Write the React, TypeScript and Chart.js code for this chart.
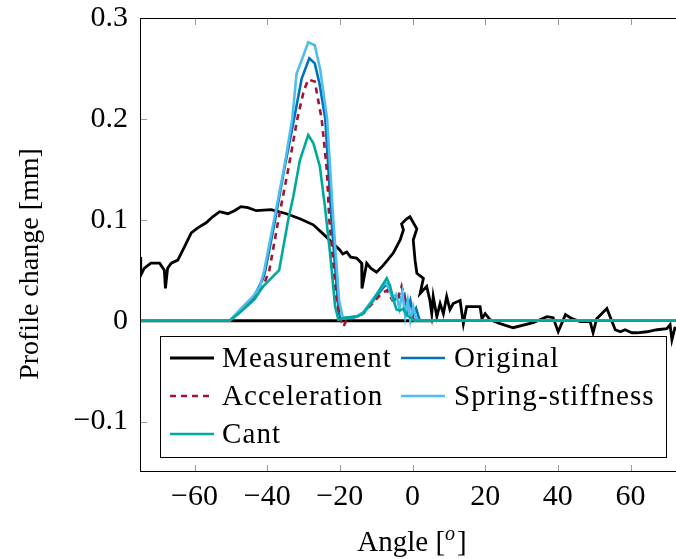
import React, { useEffect, useRef } from 'react';
import { Chart, registerables } from 'chart.js';

Chart.register(...registerables);

// ---------------- data ----------------
const measurementAngle = [
  -75, -74.8, -73.8, -72.0, -69.6, -68.3, -68.0, -67.4, -66.4, -64.6, -62.8, -60.9, -59.1, -56.8, -55.0,
  -53.1, -50.8, -49.0, -47.2, -45.3, -43.0, -38.9, -34.7, -31.0, -27.3, -24.6, -22.3, -20.0, -19.2, -18.1,
  -17.0, -15.4, -14.0, -13.9, -12.6, -11.5, -9.9, -8.0, -5.3, -3.4, -2.5, -3.0, -1.6, -0.7, 1.2, 0.2, 0.7,
  1.2, 3.0, 2.1, 3.9, 4.8, 5.3, 5.7, 6.7, 7.6, 8.5, 9.4, 10.3, 11.2, 13.1, 14.0, 14.9, 18.6, 19.1, 20.0,
  21.3, 24.1, 27.7, 33.2, 37.0, 38.7, 40.1, 42.1, 43.9, 46.2, 48.9, 49.7, 50.7, 53.5, 55.8, 57.2, 58.5,
  60.4, 61.8, 64.5, 67.3, 70.0, 70.9, 71.4, 72.3,
];
const measurementProfile = [
  0.063, 0.045, 0.052, 0.057, 0.057, 0.050, 0.032, 0.052, 0.057, 0.060, 0.073, 0.087, 0.092, 0.097, 0.103,
  0.108, 0.106, 0.109, 0.113, 0.112, 0.109, 0.110, 0.106, 0.101, 0.095, 0.086, 0.078, 0.070, 0.066, 0.068,
  0.063, 0.062, 0.057, 0.032, 0.057, 0.052, 0.048, 0.055, 0.067, 0.080, 0.090, 0.096, 0.101, 0.103, 0.091,
  0.080, 0.060, 0.047, 0.042, 0.027, 0.034, 0.020, 0.007, 0.024, 0.004, 0.017, 0.007, 0.024, 0.011, 0.017,
  0.020, -0.003, 0.014, 0.014, 0.002, 0.007, 0.001, -0.003, -0.007, -0.002, 0.004, 0.003, -0.011, 0.006,
  0.002, -0.001, -0.001, -0.012, 0.002, 0.012, -0.009, -0.011, -0.009, -0.012, -0.012, -0.011, -0.009,
  -0.008, -0.004, -0.019, -0.006,
];

const originalAngle = [
  -75, -50.3, -47.5, -43.9, -41.1, -40.5, -37.8, -35.3, -32.6, -30.5, -28.4, -26.9, -25.6, -24.0, -22.3,
  -20.6, -20.0, -18.1, -15.4, -13.6, -10.8, -8.0, -7.1, -6.2, -5.0, -4.0, -3.0, -2.2, -1.4, -0.6, 0.2, 1.0,
  2.0, 75,
];
const originalProfile = [
  0, 0, 0.01, 0.022, 0.042, 0.05, 0.1, 0.15, 0.2, 0.24, 0.26, 0.255, 0.235, 0.2, 0.1, 0.02, 0.002, 0.003,
  0.004, 0.008, 0.02, 0.033, 0.036, 0.03, 0.02, 0.024, 0.022, 0.026, 0.01, 0.02, 0.004, 0.012, 0, 0,
];

const accelerationAngle = [
  -75, -50.3, -47.5, -43.9, -41.0, -39.4, -36.9, -34.2, -31.7, -29.9, -28.7, -26.9, -25.0, -23.6, -22.9,
  -20.9, -20.0, -19.0, -18.0, -15.4, -13.6, -10.8, -8.5, -7.0, -5.5, -4.2, -3.0, -2.0, -1.0, 0.0, 1.0, 75,
];
const accelerationProfile = [
  0, 0, 0.009, 0.02, 0.035, 0.05, 0.1, 0.15, 0.2, 0.228, 0.239, 0.237, 0.2, 0.15, 0.1, 0.02, 0.004, -0.006,
  0.002, 0.004, 0.007, 0.018, 0.027, 0.03, 0.02, 0.02, 0.034, 0.02, 0.01, 0.002, 0, 0,
];

const springAngle = [
  -75, -50.3, -47.5, -43.9, -42.0, -40.8, -38.1, -35.4, -33.1, -31.9, -30.1, -28.7, -26.9, -25.4, -23.5,
  -21.8, -20.2, -19.1, -15.4, -13.6, -10.8, -8.5, -7.5, -6.5, -5.5, -4.5, -3.6, -2.8, -2.0, -1.3, -0.6, 0.2,
  1.0, 1.8, 75,
];
const springProfile = [
  0, 0, 0.011, 0.024, 0.034, 0.05, 0.1, 0.15, 0.2, 0.245, 0.262, 0.276, 0.273, 0.249, 0.2, 0.1, 0.02, 0.002,
  0.004, 0.008, 0.022, 0.033, 0.038, 0.032, 0.022, 0.026, 0.012, 0.028, 0.004, 0.02, 0.0, 0.014, 0.002, 0, 0,
];

const cantAngle = [
  -75, -50.3, -47.5, -43.5, -41.1, -36.7, -34.2, -32.8, -31.0, -28.7, -27.3, -25.5, -24.1, -22.7, -21.3,
  -20.4, -18.1, -15.4, -13.6, -10.8, -8.5, -7.1, -6.2, -5.2, -4.4, -3.5, -2.5, -1.5, -0.5, 0.5, 75,
];
const cantProfile = [
  0, 0, 0.008, 0.021, 0.034, 0.05, 0.1, 0.123, 0.159, 0.184, 0.176, 0.153, 0.113, 0.067, 0.014, 0.001, 0.003,
  0.004, 0.007, 0.02, 0.034, 0.042, 0.035, 0.02, 0.011, 0.01, 0.012, 0.005, 0.003, 0, 0,
];

const baselineAngle = [-75, 6];
const baselineProfile = [0, 0];

const xTicks = [-60, -40, -20, 0, 20, 40, 60];
const yTicks = [-0.1, 0, 0.1, 0.2, 0.3];

const seriesLabels = ['Measurement', 'Original', 'Acceleration', 'Spring-stiffness', 'Cant'];
const xTitle = 'Angle [';
const xTitleSup = 'o';
const yTitle = 'Profile change [mm]';

// ---------------- styling ----------------
const FONT = "'Liberation Serif', 'Times New Roman', serif";
const COLORS = ['#000000', '#0072BD', '#A2142F', '#4DBEEE', '#00A99D'];

const pts = (xs: number[], ys: number[]) => xs.map((x, i) => ({ x, y: ys[i] }));
const fmt = (v: number) => {
  const s = v === 0 ? '0' : Math.abs(v) < 1 ? v.toFixed(1) : String(v);
  return s.replace('-', '\u2212');
};

const decor = {
  id: 'decor',
  beforeDatasetsDraw(chart: any) {
    const { ctx, chartArea: a, scales } = chart;
    const x = scales.x;
    const y = scales.y;
    ctx.save();
    ctx.strokeStyle = '#9a9a9a';
    ctx.lineWidth = 1;
    const L = 7;
    ctx.beginPath();
    xTicks.forEach((v) => {
      const p = Math.round(x.getPixelForValue(v)) + 0.5;
      ctx.moveTo(p, a.bottom);
      ctx.lineTo(p, a.bottom - L);
      ctx.moveTo(p, a.top);
      ctx.lineTo(p, a.top + L);
    });
    yTicks.forEach((v) => {
      const p = Math.round(y.getPixelForValue(v)) + 0.5;
      ctx.moveTo(a.left, p);
      ctx.lineTo(a.left + L, p);
      ctx.moveTo(a.right, p);
      ctx.lineTo(a.right - L, p);
    });
    ctx.stroke();
    ctx.restore();
  },
  afterDraw(chart: any) {
    const { ctx, chartArea: a } = chart;
    ctx.save();
    // frame
    ctx.strokeStyle = '#000';
    ctx.lineWidth = 1;
    ctx.strokeRect(Math.round(a.left) + 0.5, Math.round(a.top) + 0.5, Math.round(a.width) - 1, Math.round(a.height) - 1);

    // legend
    const bx = 160.5, by = 336.5, bw = 506, bh = 121;
    ctx.fillStyle = '#fff';
    ctx.fillRect(bx, by, bw, bh);
    ctx.strokeRect(bx, by, bw, bh);
    const lineX = [170, 401];
    const textX = [222, 454];
    const rowBase = [367, 405, 443];
    ctx.font = `29px ${FONT}`;
    (ctx as any).letterSpacing = '1.1px';
    ctx.textBaseline = 'alphabetic';
    ctx.textAlign = 'left';
    const dsets = chart.data.datasets.filter((d: any) => d.label);
    dsets.forEach((d: any, i: number) => {
      const col = i % 2;
      const row = Math.floor(i / 2);
      const ly = rowBase[row] - 9;
      ctx.save();
      ctx.strokeStyle = d.borderColor;
      ctx.lineWidth = d.borderWidth;
      ctx.setLineDash(d.borderDash || []);
      ctx.beginPath();
      ctx.moveTo(lineX[col], ly);
      ctx.lineTo(lineX[col] + 44, ly);
      ctx.stroke();
      ctx.restore();
      ctx.fillStyle = '#000';
      ctx.fillText(d.label, textX[col], rowBase[row]);
    });
    (ctx as any).letterSpacing = '0px';

    // y title
    ctx.save();
    ctx.translate(31, 264);
    ctx.rotate(-Math.PI / 2);
    ctx.textAlign = 'center';
    ctx.textBaseline = 'middle';
    ctx.font = `28px ${FONT}`;
    ctx.fillStyle = '#000';
    ctx.fillText(yTitle, 0, 0);
    ctx.restore();

    // x title with superscript
    ctx.font = `29px ${FONT}`;
    const w1 = ctx.measureText(xTitle).width;
    ctx.font = `italic 20px ${FONT}`;
    const w2 = ctx.measureText(xTitleSup).width;
    ctx.font = `29px ${FONT}`;
    const w3 = ctx.measureText(']').width;
    const total = w1 + w2 + 2 + w3;
    let cx = 412 - total / 2;
    const base = 551;
    ctx.fillStyle = '#000';
    ctx.textAlign = 'left';
    ctx.fillText(xTitle, cx, base);
    cx += w1;
    ctx.font = `italic 20px ${FONT}`;
    ctx.fillText(xTitleSup, cx, base - 11);
    cx += w2 + 2;
    ctx.font = `29px ${FONT}`;
    ctx.fillText(']', cx, base);
    ctx.restore();
  },
};

export default function App() {
  const ref = useRef<HTMLCanvasElement | null>(null);

  useEffect(() => {
    if (!ref.current) return;
    const mk = (label: string, xs: number[], ys: number[], color: string, order: number, dash?: number[], width = 2.6) => ({
      label,
      data: pts(xs, ys),
      borderColor: color,
      backgroundColor: color,
      borderWidth: width,
      borderDash: dash,
      pointRadius: 0,
      fill: false,
      tension: 0,
      order,
    });
    const chart = new Chart(ref.current, {
      type: 'line',
      data: {
        datasets: [
          mk(seriesLabels[0], measurementAngle, measurementProfile, COLORS[0], 4, undefined, 2.8),
          mk(seriesLabels[1], originalAngle, originalProfile, COLORS[1], 3),
          mk(seriesLabels[2], accelerationAngle, accelerationProfile, COLORS[2], 2, [6, 5]),
          mk(seriesLabels[3], springAngle, springProfile, COLORS[3], 1),
          mk(seriesLabels[4], cantAngle, cantProfile, COLORS[4], 0),
          mk('', baselineAngle, baselineProfile, '#000000', 5, undefined, 3),
        ] as any,
      },
      options: {
        animation: false,
        responsive: false,
        devicePixelRatio: 1,
        layout: { padding: { left: 0, right: 0, top: 18, bottom: 0 } },
        plugins: { legend: { display: false }, tooltip: { enabled: false } },
        scales: {
          x: {
            type: 'linear',
            min: -75,
            max: 75,
            grid: { display: false, drawTicks: false },
            border: { display: false },
            afterBuildTicks: (axis: any) => {
              axis.ticks = xTicks.map((v) => ({ value: v }));
            },
            afterFit: (scale: any) => {
              scale.height = 87;
              scale.paddingLeft = 0;
              scale.paddingRight = 0;
            },
            ticks: {
              autoSkip: false,
              maxRotation: 0,
              padding: 7,
              color: '#000',
              font: { family: FONT, size: 30 },
              callback: (v: any) => fmt(Number(v)),
            },
          },
          y: {
            type: 'linear',
            min: -0.15,
            max: 0.3,
            grid: { display: false, drawTicks: false },
            border: { display: false },
            afterBuildTicks: (axis: any) => {
              axis.ticks = yTicks.map((v) => ({ value: v }));
            },
            afterFit: (scale: any) => {
              scale.width = 140;
              scale.paddingTop = 0;
              scale.paddingBottom = 0;
            },
            ticks: {
              autoSkip: false,
              padding: 12,
              color: '#000',
              font: { family: FONT, size: 30 },
              callback: (v: any) => fmt(Number(v)),
            },
          },
        },
      },
      plugins: [decor],
    } as any);
    return () => chart.destroy();
  }, []);

  return (
    <div style={{ position: 'fixed', left: 0, top: 0, width: 676, height: 559, overflow: 'hidden', background: '#fff' }}>
      <canvas ref={ref} width={685} height={559} style={{ display: 'block', width: 685, height: 559 }} />
    </div>
  );
}
